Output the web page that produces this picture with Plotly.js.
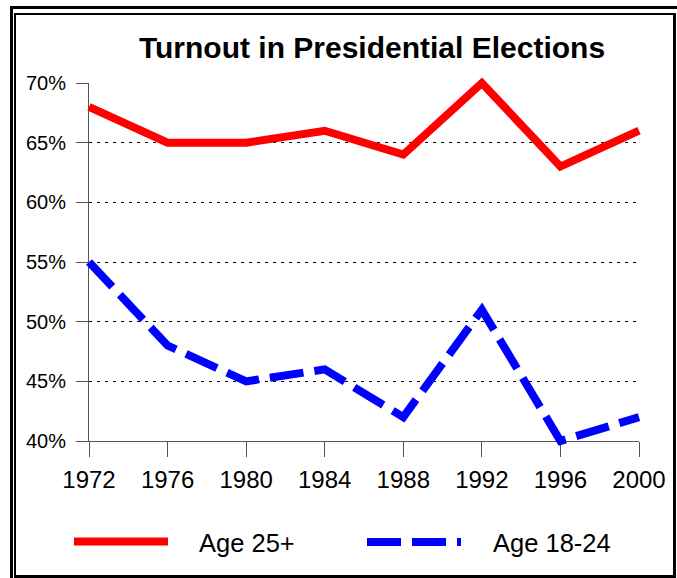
<!DOCTYPE html>
<html>
<head>
<meta charset="utf-8">
<script src="https://cdn.plot.ly/plotly-3.0.1.min.js"></script>
<style>html,body{margin:0;padding:0;background:#fff;}#chart{width:677px;height:578px;}</style>
</head>
<body>
<div id="chart"></div>
<script>
// ---- data ----
var years = [1972, 1976, 1980, 1984, 1988, 1992, 1996, 2000];
var age25Plus = [68, 65, 65, 66, 64, 70, 63, 66];
var age18to24 = [55, 48, 45, 46, 42, 51, 40, 42];
var seriesNames = ['Age 25+', 'Age 18-24'];
var yTickVals = [40, 45, 50, 55, 60, 65, 70];
var xTickVals = years;
var titleText = 'Turnout in Presidential Elections';

// ---- layout geometry ----
var W = 677, H = 578;
var M = {l: 79, r: 28, t: 73, b: 127};
var PW = W - M.l - M.r, PH = H - M.t - M.b;
var pad = 10; // pixels between data-area edge and axis frame
var xr = [1972, 2000], yr = [40, 70];
var xPerPx = (xr[1] - xr[0]) / (PW - 2 * pad);
var yPerPx = (yr[1] - yr[0]) / (PH - 2 * pad);
function px(x) { return (x - M.l) / PW; }
function py(y) { return (H - M.b - y) / PH; }

var FONT = 'Liberation Sans, Arial, sans-serif';

var traces = [
  // empty trace so the axis frame subplot (x, y) is created
  {x: [], y: [], type: 'scatter', mode: 'lines', xaxis: 'x', yaxis: 'y', showlegend: false, hoverinfo: 'skip'},
  {x: years, y: age25Plus, name: seriesNames[0], type: 'scatter', mode: 'lines',
   xaxis: 'x2', yaxis: 'y2', line: {color: '#ff0000', width: 8}, showlegend: false},
  {x: years, y: age18to24, name: seriesNames[1], type: 'scatter', mode: 'lines',
   xaxis: 'x2', yaxis: 'y2', line: {color: '#0000ff', width: 8, dash: '34px,11px'}, showlegend: false}
];

function bar(x0, y0, x1, y1) {
  return {type: 'rect', xref: 'paper', yref: 'paper', x0: px(x0), x1: px(x1), y0: py(y0), y1: py(y1),
          fillcolor: '#000', line: {width: 0}, layer: 'above'};
}

var shapes = [
  // outer frame
  bar(10, 6, 690, 9), bar(10, 6, 13, 590),
  // inner frame
  bar(14, 13, 676, 15), bar(14, 13, 16, 578), bar(673, 13, 676, 578), bar(14, 575, 676, 578),
  // legend lines
  {type: 'line', xref: 'paper', yref: 'paper', x0: px(74), x1: px(168), y0: py(541.5), y1: py(541.5),
   line: {color: '#ff0000', width: 8}},
  {type: 'line', xref: 'paper', yref: 'paper', x0: px(367), x1: px(461), y0: py(542), y1: py(542),
   line: {color: '#0000ff', width: 8, dash: '34px,11px'}}
];

var annotations = [
  {xref: 'paper', yref: 'paper', x: px(197), y: py(543), xanchor: 'left', yanchor: 'middle',
   text: seriesNames[0], showarrow: false, font: {family: FONT, size: 25.5, color: '#000'}},
  {xref: 'paper', yref: 'paper', x: px(491), y: py(543), xanchor: 'left', yanchor: 'middle',
   text: seriesNames[1], showarrow: false, font: {family: FONT, size: 25.5, color: '#000'}}
];

var axisColor = '#555555';
var layout = {
  width: W, height: H,
  margin: M,
  paper_bgcolor: '#ffffff',
  plot_bgcolor: 'rgba(0,0,0,0)',
  showlegend: false,
  title: {text: '<b>' + titleText + '</b>', font: {family: FONT, size: 30, color: '#000'},
          xref: 'container', yref: 'container', x: 372 / W, xanchor: 'center', y: 1 - 47.5 / H, yanchor: 'middle'},
  xaxis: {
    domain: [pad / PW, 1 - pad / PW], anchor: 'y', range: xr,
    tickmode: 'array', tickvals: xTickVals, ticktext: xTickVals.map(String),
    ticks: 'outside', ticklen: 15, tickwidth: 1, tickcolor: axisColor,
    showline: true, linecolor: axisColor, linewidth: 1,
    showgrid: false, zeroline: false,
    tickfont: {family: FONT, size: 24, color: '#000'}, ticklabelstandoff: 2
  },
  yaxis: {
    domain: [pad / PH, 1 - pad / PH], anchor: 'x', range: yr,
    tickmode: 'array', tickvals: yTickVals, ticktext: yTickVals.map(function (v) { return v + '%'; }),
    ticks: 'outside', ticklen: 12, tickwidth: 1, tickcolor: axisColor,
    showline: true, linecolor: axisColor, linewidth: 1,
    showgrid: true, gridcolor: '#000', gridwidth: 1, griddash: '3px,5px',
    zeroline: false,
    tickfont: {family: FONT, size: 20, color: '#000'}, ticklabelstandoff: 6
  },
  xaxis2: {domain: [0, 1], anchor: 'y2', range: [xr[0] - pad * xPerPx, xr[1] + pad * xPerPx], visible: false},
  yaxis2: {domain: [0, 1], anchor: 'x2', range: [yr[0] - pad * yPerPx, yr[1] + pad * yPerPx], visible: false},
  shapes: shapes,
  annotations: annotations
};

Plotly.newPlot('chart', traces, layout, {displayModeBar: false, staticPlot: true});
</script>
</body>
</html>
